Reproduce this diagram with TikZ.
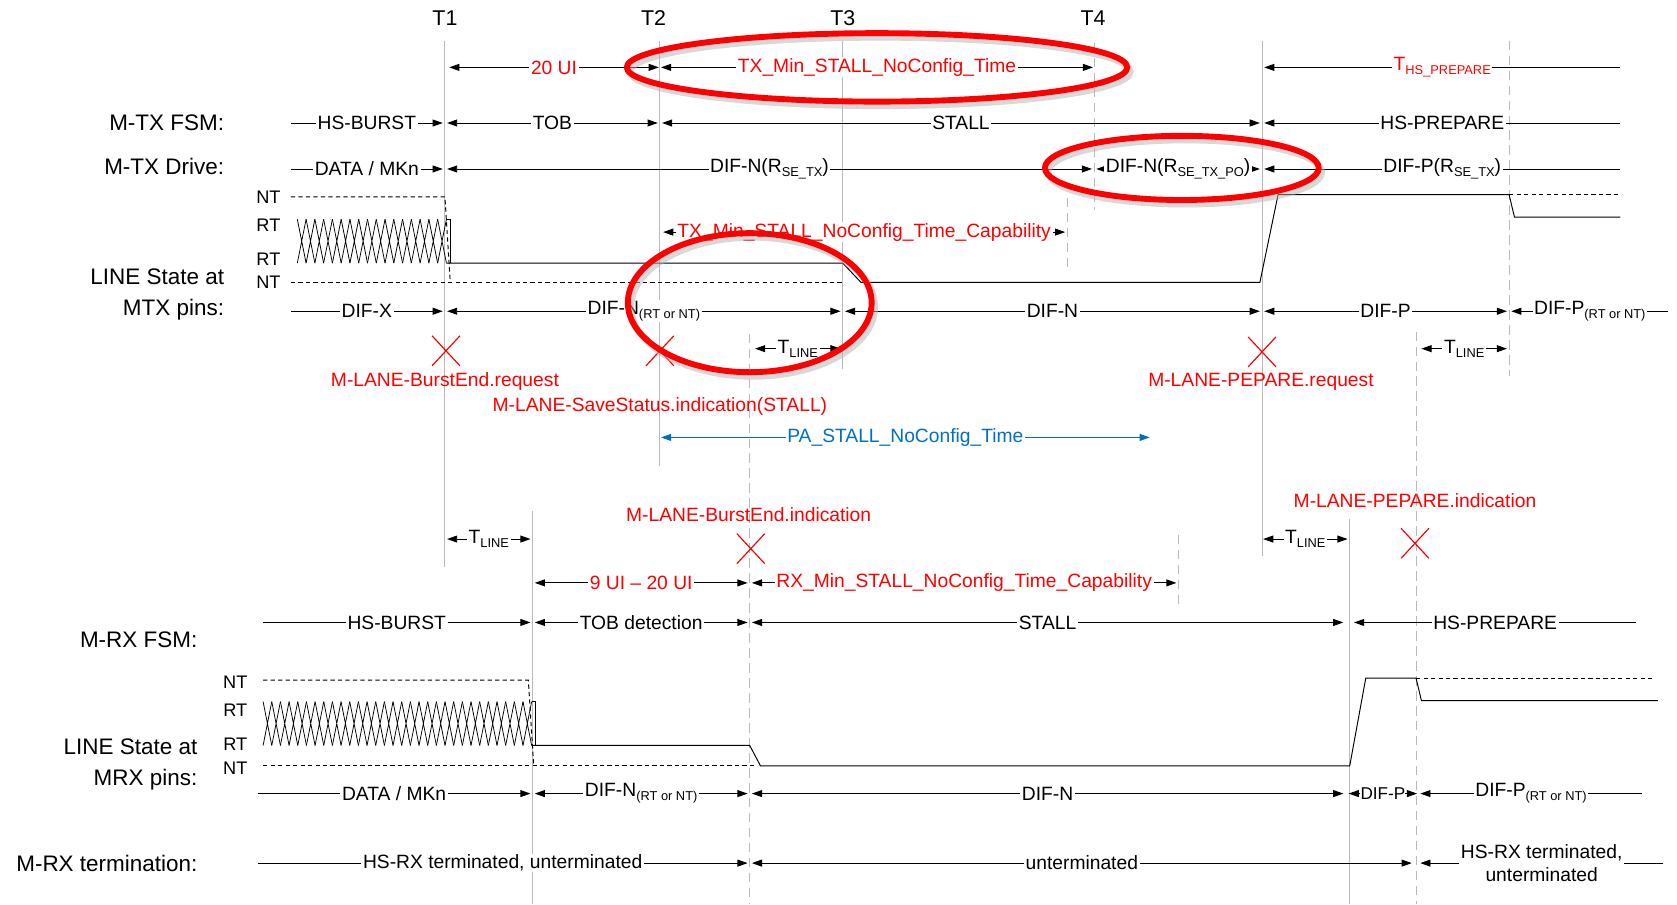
\documentclass[tikz,border=0pt]{standalone}
\usepackage{fontspec}
\setmainfont{Liberation Sans}
\usetikzlibrary{arrows.meta}
\definecolor{pablue}{RGB}{0,112,192}
\newcommand{\lo}[1]{\raisebox{-0.4ex}{\fontsize{12}{12}\selectfont #1}}

\begin{document}
\begin{tikzpicture}[x=1pt, y=-1pt, >={Triangle[length=9.5pt,width=6.5pt]},
    tline/.style={gray!55, line width=1pt},
    tdash/.style={tline, dash pattern=on 9pt off 5pt},
    seg/.style={line width=0.9pt},
    lab/.style={fill=white, inner xsep=1.5pt, inner ysep=1pt, font=\fontsize{18}{21}\selectfont},
    rowname/.style={anchor=east, align=right, font=\fontsize{21}{29}\selectfont},
    lvl/.style={font=\fontsize{17}{17}\selectfont},
    note/.style={red, font=\fontsize{18}{21}\selectfont},
    cross/.style={red, line width=1.1pt},
    ring/.style={red, line width=5.5pt},
    shade/.style={black!30, line width=6pt, opacity=0.5}]

    \useasboundingbox (0,0) rectangle (1568,846);

    % Time markers
    \foreach \x/\t in {416/T1, 611/T2, 788/T3, 1022/T4}
        \node[font=\fontsize{20}{20}\selectfont] (\t) at (\x,17) {\t};

    % Vertical guides
    \foreach \x/\a/\b in {416/38/530, 617/38/436, 788/38/345, 1180/38/520, 498/478/845, 1262/485/845}
        \draw[tline] (\x,\a) -- (\x,\b);
    \foreach \x/\a/\b in {1023/40/196, 998/185/252, 1411/38/352, 701/312/845, 1102/500/570, 1324/310/845}
        \draw[tdash] (\x,\a) -- (\x,\b);

    % Row names
    \node[rowname] (txfsm) at (213,115) {M-TX FSM:};
    \node[rowname] (txdrv) at (213,156) {M-TX Drive:};
    \node[rowname] (txline) at (213,275) {LINE State at\\MTX pins:};
    \node[rowname] (rxfsm) at (188,598) {M-RX FSM:};
    \node[rowname] (rxline) at (188,715) {LINE State at\\MRX pins:};
    \node[rowname] (rxterm) at (188,807) {M-RX termination:};

    % Levels
    \foreach \x/\y/\t [count=\k] in {251/184/NT, 251/211/RT, 251/242/RT, 251/264/NT,
                                      220/638/NT, 220/664/RT, 220/696/RT, 220/718/NT}
        \node[lvl] (lv\k) at (\x,\y) {\t};

    % State rows (black)
    \foreach \a/\b/\y/\d/\t [count=\k] in {
        272/414/115/->/HS-BURST, 418/615/115/<->/TOB, 619/1178/115/<->/STALL, 1182/1515/115/<-/HS-PREPARE,
        272/414/158/->/{DATA / MKn}, 418/1021/158/<->/{DIF-N(R\lo{SE\_TX})},
        1025/1178/158/<->/{DIF-N(R\lo{SE\_TX\_PO})}, 1182/1515/158/<-/{DIF-P(R\lo{SE\_TX})},
        272/414/291/->/DIF-X, 418/786/291/<->/{DIF-N\lo{(RT or NT)}}, 790/1178/291/<->/DIF-N,
        1182/1409/291/<->/DIF-P, 1413/1560/291/<-/{DIF-P\lo{(RT or NT)}},
        706/786/326/<->/{T\lo{LINE}}, 1329/1409/326/<->/{T\lo{LINE}},
        418/496/504/<->/{T\lo{LINE}}, 1181/1260/504/<->/{T\lo{LINE}},
        246/496/582/->/HS-BURST, 500/699/582/<->/TOB detection, 703/1256/582/<->/STALL, 1266/1530/582/<-/HS-PREPARE,
        241/496/742/->/{DATA / MKn}, 500/699/742/<->/{DIF-N\lo{(RT or NT)}}, 703/1256/742/<->/DIF-N,
        1328/1535/742/<-/{DIF-P\lo{(RT or NT)}},
        241/699/807/->/{HS-RX terminated, unterminated}, 703/1320/807/<->/unterminated}
        \draw[seg, \d] (\a,\y) -- node[lab] (st\k) {\t} (\b,\y);
    \draw[seg, <-] (1328,807) -- node[lab, align=center, font=\fontsize{18}{22}\selectfont] (st0) {HS-RX terminated,\\unterminated} (1555,807);

    % short DIF-P at MRX pins
    \node[font=\fontsize{16}{19}\selectfont, inner sep=0pt] (dp) at (1293,742) {DIF-P};
    \coordinate (dpl) at (1261,742);
    \coordinate (dpr) at (1325,742);
    \draw[seg, <-] (dpl) -- (dp.west |- dpl);
    \draw[seg, ->] (dp.east |- dpr) -- (dpr);

    % Timing rows (red)
    \foreach \a/\b/\y/\d/\t [count=\k] in {
        420/616/63/<->/20 UI, 618/1022/63/<->/TX\_Min\_STALL\_NoConfig\_Time, 1182/1515/63/<-/{T\lo{HS\_PREPARE}},
        620/996/217/<->/TX\_Min\_STALL\_NoConfig\_Time\_Capability,
        500/699/545/<->/9 UI -- 20 UI, 703/1100/545/<->/RX\_Min\_STALL\_NoConfig\_Time\_Capability}
        \draw[seg, \d] (\a,\y) -- node[lab, text=red] (tm\k) {\t} (\b,\y);

    % PA timer (blue)
    \draw[seg, pablue, <->] (618,409) -- node[lab, text=pablue] (pa) {PA\_STALL\_NoConfig\_Time} (1075,409);

    % MTX line state
    \draw[seg, dash pattern=on 4pt off 3pt] (272,184) -- (416,184) -- (421,264);
    \draw[seg, dash pattern=on 4pt off 3pt] (272,264) -- (790,264);
    \foreach \i in {0,...,16}
        \draw[line width=0.7pt] ({278+8.2*\i},205) -- ({286.2+8.2*\i},246) ({278+8.2*\i},246) -- ({286.2+8.2*\i},205);
    \draw[seg] (417.4,205) -- (421,205) -- (421,246);
    \draw[seg] (417.4,246) -- (788,246) -- (805,264) -- (1178,264) -- (1195,182) -- (1411,182) -- (1416,203) -- (1515,203);
    \draw[seg, dash pattern=on 4pt off 3pt] (1411,182) -- (1515,182);

    % MRX line state
    \draw[seg, dash pattern=on 4pt off 3pt] (246,636) -- (494,636) -- (499,716);
    \draw[seg, dash pattern=on 4pt off 3pt] (246,716) -- (705,716);
    \foreach \i in {0,...,30}
        \draw[line width=0.7pt] ({246+8.1*\i},656) -- ({254.1+8.1*\i},697) ({246+8.1*\i},697) -- ({254.1+8.1*\i},656);
    \draw[seg] (497.1,656) -- (501,656) -- (501,697);
    \draw[seg] (497.1,697) -- (701,697) -- (711,716) -- (1262,716) -- (1277,634) -- (1324,634) -- (1329,655) -- (1550,655);
    \draw[seg, dash pattern=on 4pt off 3pt] (1324,634) -- (1545,634);

    % Events
    \foreach \x/\y in {417/328, 617/328, 1180/329, 702/513, 1323/508}
        \draw[cross] ({\x-13},{\y-14}) -- ({\x+13},{\y+14}) ({\x+13},{\y-14}) -- ({\x-13},{\y+14});
    \node[note] (ev1) at (416,357) {M-LANE-BurstEnd.request};
    \node[note] (ev2) at (617,380) {M-LANE-SaveStatus.indication(STALL)};
    \node[note] (ev3) at (1179,357) {M-LANE-PEPARE.request};
    \node[note] (ev4) at (700,481) {M-LANE-BurstEnd.indication};
    \node[note] (ev5) at (1323,468) {M-LANE-PEPARE.indication};

    % Highlights
    \draw[shade] (823,67) ellipse [x radius=234, y radius=32];
    \draw[shade] (1108,161) ellipse [x radius=128, y radius=30];
    \draw[shade] (704,287) ellipse [x radius=114, y radius=65];
    \draw[ring] (820,63) ellipse [x radius=234, y radius=32];
    \draw[ring] (1105,157) ellipse [x radius=128, y radius=30];
    \draw[ring] (701,283) ellipse [x radius=114, y radius=65];
\end{tikzpicture}
\end{document}
